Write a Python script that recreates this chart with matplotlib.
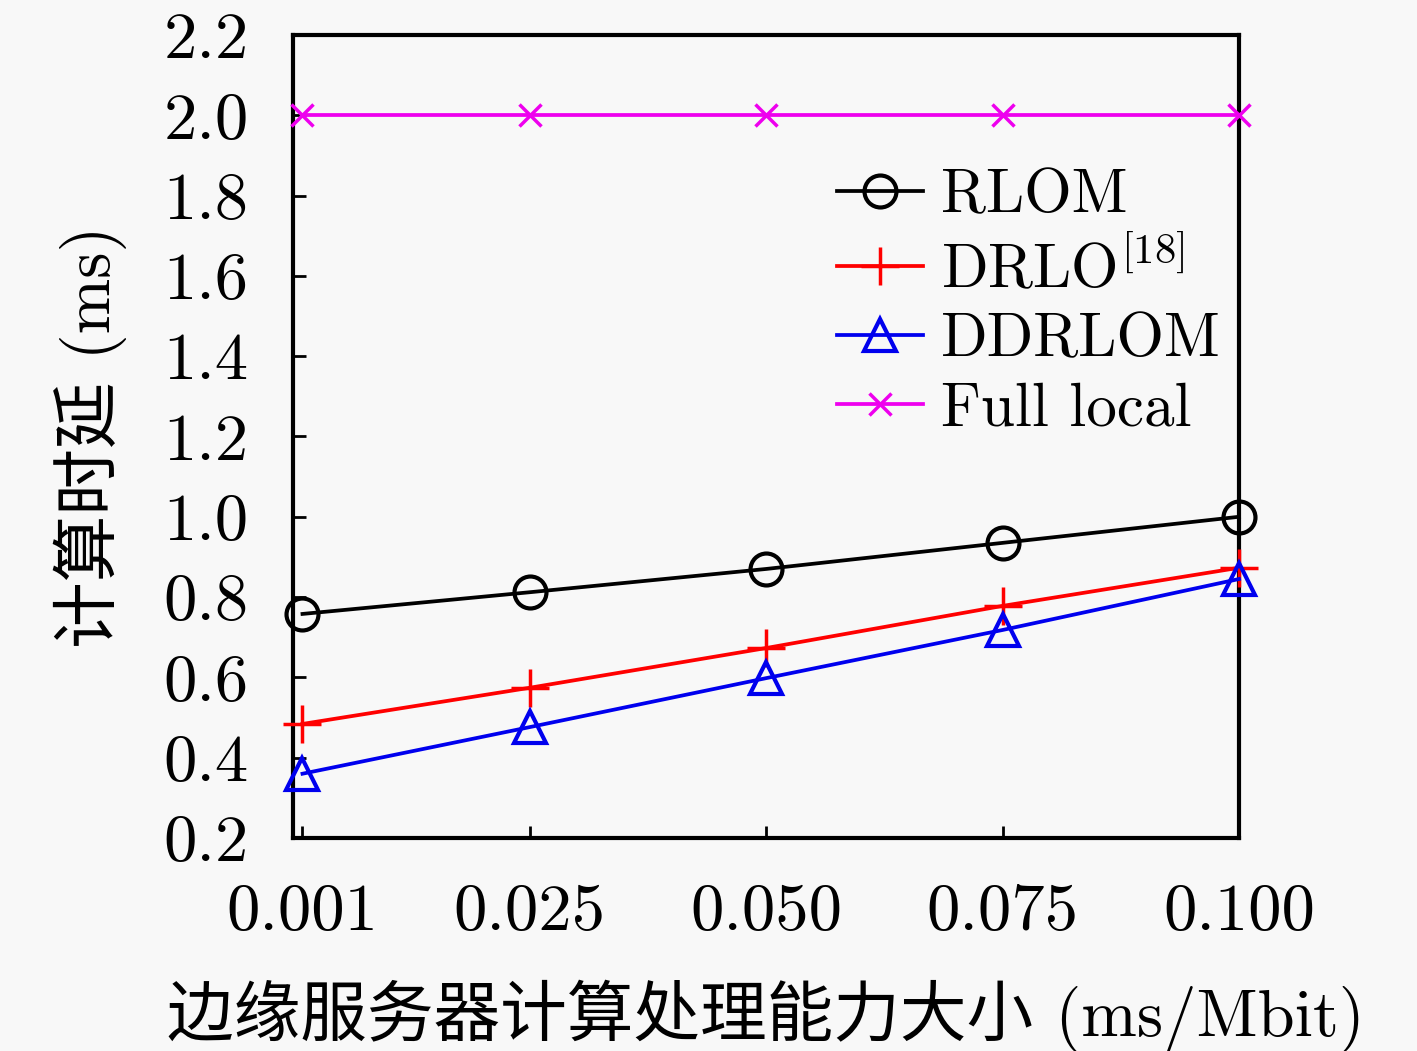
import matplotlib
matplotlib.use("Agg")
import matplotlib.pyplot as plt

plt.rcParams['font.family'] = ['cmr10', 'Noto Sans CJK SC', 'DejaVu Sans']
plt.rcParams['mathtext.fontset'] = 'cm'
plt.rcParams['axes.formatter.use_mathtext'] = True

# data
x = [0.001, 0.025, 0.050, 0.075, 0.100]
xtick_labels = ['0.001', '0.025', '0.050', '0.075', '0.100']
rlom = [0.758, 0.812, 0.870, 0.935, 1.000]
drlo = [0.484, 0.574, 0.673, 0.778, 0.873]
ddrlom = [0.360, 0.476, 0.598, 0.718, 0.845]
full_local = [2.0, 2.0, 2.0, 2.0, 2.0]
yticks = [0.2, 0.4, 0.6, 0.8, 1.0, 1.2, 1.4, 1.6, 1.8, 2.0, 2.2]

bg = '#f8f8f8'
fig = plt.figure(figsize=(14.17, 10.51), dpi=100, facecolor=bg)
ax = fig.add_axes([0.2068, 0.2027, 0.6676, 0.764], facecolor=bg)

lw = 2.7
ax.plot(x, rlom, color='black', marker='o', markersize=23, markerfacecolor='none',
        markeredgewidth=3, linewidth=lw, label='RLOM', clip_on=False, zorder=3)
ax.plot(x, drlo, color='red', marker='+', markersize=28, markeredgewidth=2.5,
        linewidth=lw, label=r'DRLO$^{[18]}$', clip_on=False, zorder=3)
ax.plot(x, ddrlom, color='#0000ee', marker='^', markersize=23, markerfacecolor='none',
        markeredgewidth=3, linewidth=lw, label='DDRLOM', clip_on=False, zorder=3)
ax.plot(x, full_local, color='#ee00ee', marker='x', markersize=16, markeredgewidth=2.5,
        linewidth=lw, label='Full local', clip_on=False, zorder=3)

ax.set_xlim(0.0, 0.1)
ax.set_ylim(0.2, 2.2)
ax.set_xticks(x)
ax.set_xticklabels(xtick_labels)
ax.set_yticks(yticks)
ax.set_yticklabels(['%.1f' % v for v in yticks])
ax.tick_params(axis='x', direction='in', length=9, width=2, labelsize=48, pad=33)
ax.tick_params(axis='y', direction='in', length=9, width=2, labelsize=48, pad=32)
for s in ax.spines.values():
    s.set_linewidth(3)
    s.set_zorder(2.5)

ax.set_xlabel('边缘服务器计算处理能力大小 (ms/Mbit)', fontsize=48, labelpad=26)
ax.set_ylabel('计算时延 (ms)', fontsize=48, labelpad=26)

ax.legend(loc='upper left', bbox_to_anchor=(0.543, 0.871), frameon=False, fontsize=44,
          handlelength=1.4, handletextpad=0.3, labelspacing=0.22, borderpad=0)

fig.savefig('out.png', dpi=100, facecolor=bg)
